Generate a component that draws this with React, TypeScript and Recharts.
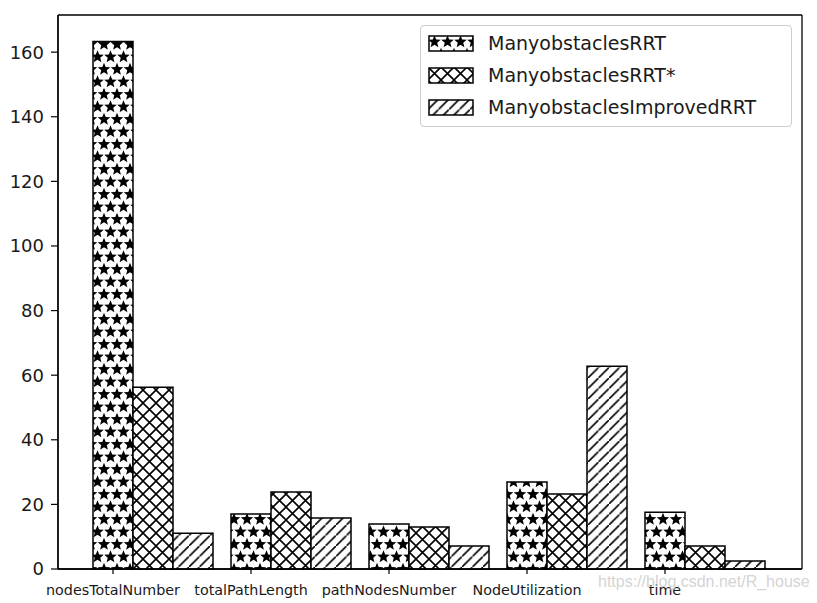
import React from 'react';
import { BarChart, Bar, XAxis, YAxis, Legend, CartesianGrid } from 'recharts';

const categories = ['nodesTotalNumber', 'totalPathLength', 'pathNodesNumber', 'NodeUtilization', 'time'];
const rrtValues = [163.3, 17.0, 13.9, 26.9, 17.6];
const rrtStarValues = [56.3, 23.8, 13.0, 23.2, 7.1];
const improvedValues = [11.1, 15.8, 7.1, 62.8, 2.5];
const yTicks = [0, 20, 40, 60, 80, 100, 120, 140, 160];

const seriesInfo = [
  { key: 'rrt', name: 'ManyobstaclesRRT', fill: 'url(#hatchStars)' },
  { key: 'rrtStar', name: 'ManyobstaclesRRT*', fill: 'url(#hatchCross)' },
  { key: 'improved', name: 'ManyobstaclesImprovedRRT', fill: 'url(#hatchSlash)' },
];

const data = categories.map((name, i) => ({
  name,
  rrt: rrtValues[i],
  rrtStar: rrtStarValues[i],
  improved: improvedValues[i],
}));

const FONT = '"DejaVu Sans", sans-serif';
const BAR_W = 40;

const starPath = (cx: number, cy: number, R: number, r: number) => {
  const pts: string[] = [];
  for (let k = 0; k < 10; k++) {
    const rad = k % 2 === 0 ? R : r;
    const a = -Math.PI / 2 + (k * Math.PI) / 5;
    pts.push(`${(cx + rad * Math.cos(a)).toFixed(2)},${(cy + rad * Math.sin(a)).toFixed(2)}`);
  }
  return `M${pts.join('L')}Z`;
};

// matplotlib-like hatches: '*', 'x', '/'
const Patterns = () => (
  <svg width={0} height={0} style={{ position: 'absolute' }}>
    <defs>
      <pattern id="hatchStars" patternUnits="userSpaceOnUse" width={13} height={25}>
        <rect width={13} height={25} fill="#fff" />
        <path d={starPath(6.5, 6.8, 6.6, 2.9)} fill="#000" />
        <path d={starPath(0, 19.3, 6.6, 2.9)} fill="#000" />
        <path d={starPath(13, 19.3, 6.6, 2.9)} fill="#000" />
      </pattern>
      <pattern id="hatchCross" patternUnits="userSpaceOnUse" width={13} height={13}>
        <rect width={13} height={13} fill="#fff" />
        <path d="M0,0L13,13M0,13L13,0" stroke="#000" strokeWidth={1.6} />
      </pattern>
      <pattern id="hatchSlash" patternUnits="userSpaceOnUse" width={10.5} height={10.5}>
        <rect width={10.5} height={10.5} fill="#fff" />
        <path d="M-1,11.5L11.5,-1M-2,1L1,-2M9.5,12.5L12.5,9.5" stroke="#000" strokeWidth={1.6} />
      </pattern>
    </defs>
  </svg>
);

const XTick = (props: any) => {
  const { x, y, payload } = props;
  const tx = x - BAR_W;
  return (
    <g>
      <line x1={tx} x2={tx} y1={y - 9} y2={y - 3} stroke="#000" strokeWidth={1.2} />
      <text x={tx} y={y + 18} textAnchor="middle" fontSize={14.3} fontFamily={FONT} fill="#1a1a1a">
        {payload.value}
      </text>
    </g>
  );
};

const renderLegend = () => (
  <div
    style={{
      width: 372,
      height: 102,
      border: '1px solid #cccccc',
      borderRadius: 4,
      background: 'rgba(255,255,255,0.85)',
      boxSizing: 'border-box',
      paddingTop: 1,
    }}
  >
    {seriesInfo.map((s) => (
      <div key={s.key} style={{ display: 'flex', alignItems: 'center', height: 32, paddingLeft: 7 }}>
        <svg width={46} height={17} style={{ marginRight: 14 }}>
          <rect x={1} y={1} width={44} height={15} fill={s.fill} stroke="#000" strokeWidth={1.5} />
        </svg>
        <span style={{ fontFamily: FONT, fontSize: 19, color: '#1a1a1a' }}>{s.name}</span>
      </div>
    ))}
  </div>
);

export default function App() {
  return (
    <div style={{ position: 'absolute', left: 0, top: 0, width: 817, height: 603, background: '#fff' }}>
      <Patterns />
      <BarChart
        width={817}
        height={603}
        data={data}
        margin={{ top: 15, right: 15, bottom: 0, left: 0 }}
        barSize={BAR_W}
        barGap={0}
      >
        <CartesianGrid
          fill="none"
          stroke="#000"
          strokeWidth={1.3}
          horizontalCoordinatesGenerator={({ offset }: any) => [offset.top, offset.top + offset.height]}
          verticalCoordinatesGenerator={({ offset }: any) => [offset.left, offset.left + offset.width]}
        />
        <XAxis
          dataKey="name"
          height={34}
          padding={{ left: 26, right: 28 }}
          tickLine={false}
          tick={<XTick />}
          axisLine={{ stroke: '#000', strokeWidth: 1.3 }}
          interval={0}
        />
        <YAxis
          width={58}
          domain={[0, 171.5]}
          ticks={yTicks}
          tickSize={7}
          tickMargin={7}
          tickLine={{ stroke: '#000', strokeWidth: 1.2 }}
          axisLine={{ stroke: '#000', strokeWidth: 1.3 }}
          tick={{ fontSize: 18, fontFamily: FONT, fill: '#1a1a1a' }}
        />
        <Legend
          layout="vertical"
          verticalAlign="middle"
          align="center"
          wrapperStyle={{ top: 25, left: 420, width: 372, height: 102 }}
          content={renderLegend}
        />
        {seriesInfo.map((s) => (
          <Bar
            key={s.key}
            dataKey={s.key}
            name={s.name}
            fill={s.fill}
            stroke="#000"
            strokeWidth={1.5}
            isAnimationActive={false}
          />
        ))}
      </BarChart>
      <div
        style={{
          position: 'absolute',
          left: 598,
          top: 573,
          fontFamily: '"Liberation Sans", Arial, sans-serif',
          fontSize: 16,
          color: 'rgba(200,200,200,0.8)',
          whiteSpace: 'nowrap',
        }}
      >
        https://blog.csdn.net/R_house
      </div>
    </div>
  );
}
